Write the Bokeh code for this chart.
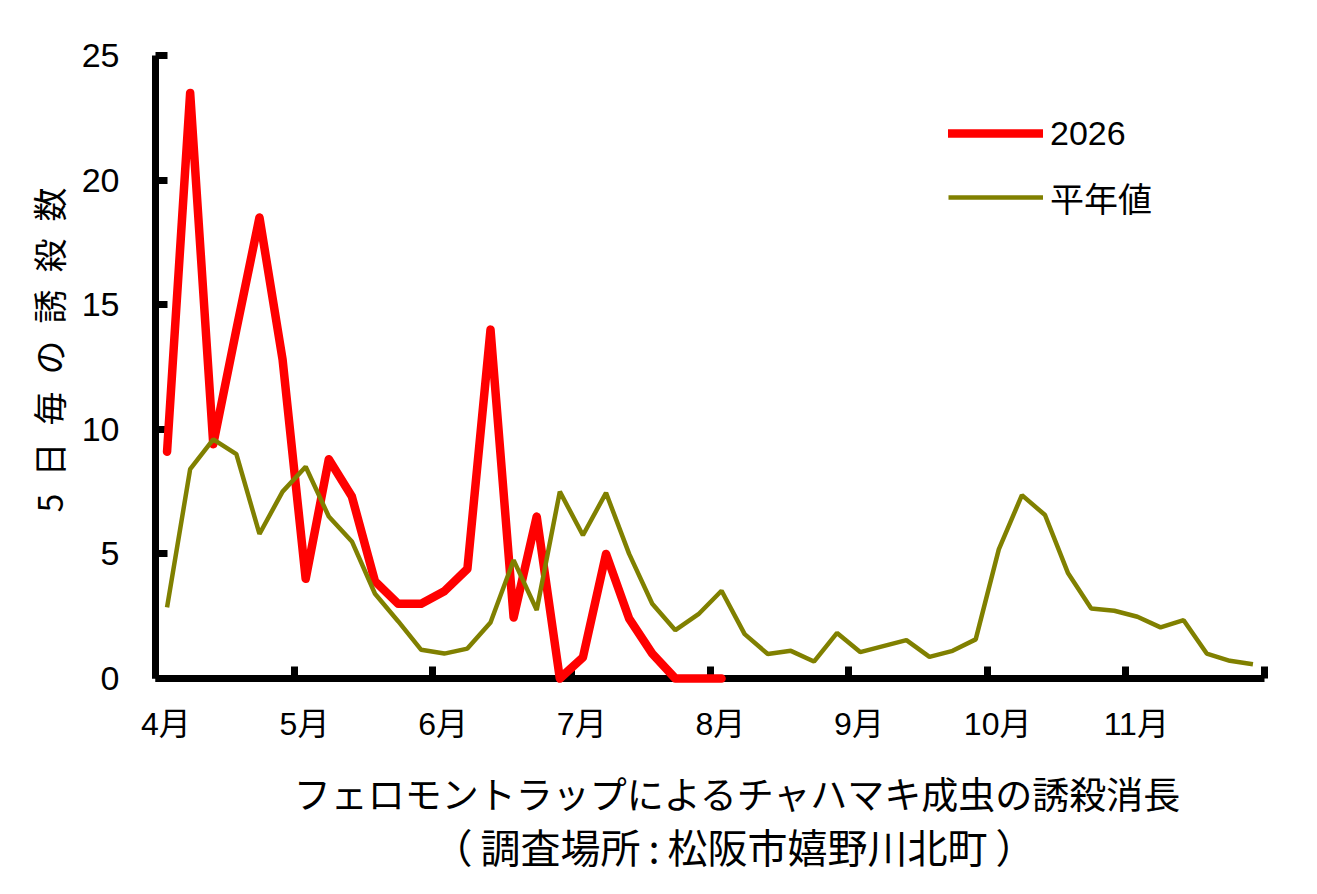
from bokeh.plotting import figure
from bokeh.models import LinearAxis, FixedTicker, Range1d, Legend, LegendItem
from bokeh.embed import file_html
from bokeh.resources import INLINE

# ---- data ----
months = ["4月", "5月", "6月", "7月", "8月", "9月", "10月", "11月"]
pentads_per_month = 6
# 5-day (pentad) trap counts, 2026 (from April 1st pentad)
count_2026 = [9.1, 23.5, 9.4, 14.0, 18.5, 12.8, 4.0, 8.8, 7.3, 3.9, 3.0, 3.0,
              3.5, 4.4, 14.0, 2.45, 6.5, 0.0, 0.85, 5.0, 2.4, 1.0, 0.0, 0.0, 0.0]
# normal-year values (平年値)
count_normal = [2.85, 8.4, 9.6, 9.0, 5.8, 7.5, 8.5, 6.5, 5.5, 3.4, 2.3, 1.15,
                1.0, 1.2, 2.25, 4.75, 2.75, 7.5, 5.75, 7.45, 5.0, 3.0, 1.94, 2.58,
                3.52, 1.78, 0.98, 1.11, 0.68, 1.83, 1.06, 1.3, 1.54, 0.87, 1.11, 1.57,
                5.18, 7.36, 6.56, 4.22, 2.81, 2.72, 2.48, 2.05, 2.34, 1.0, 0.71, 0.57]
y_ticks = [0, 5, 10, 15, 20, 25]
series_labels = ["2026", "平年値"]
y_title = "5日毎の誘殺数"
x_title_1 = "フェロモントラップによるチャハマキ成虫の誘殺消長"
x_title_2 = "（\u2009調査場所\u2009:\u2009松阪市嬉野川北町\u2009）"

n_pentads = len(months) * pentads_per_month
x_2026 = [i + 0.5 for i in range(len(count_2026))]
x_normal = [i + 0.5 for i in range(len(count_normal))]
month_starts = [k * pentads_per_month for k in range(len(months) + 1)]
label_pos = [k * pentads_per_month + 0.45 for k in range(len(months))]

JP = "Liberation Sans, Noto Sans CJK JP"
CJK = "Noto Sans CJK JP"

p = figure(width=1300, height=878, output_backend="svg", toolbar_location=None,
           x_range=Range1d(0, n_pentads), y_range=Range1d(0, y_ticks[-1]),
           x_axis_type=None,
           min_border_left=155, min_border_right=36, min_border_top=55,
           min_border_bottom=200)
p.outline_line_color = None
p.grid.visible = False
p.background_fill_color = "white"

# y axis
ya = p.yaxis[0]
ya.ticker = FixedTicker(ticks=y_ticks)
ya.major_tick_in = 12
ya.major_tick_out = 0
ya.minor_tick_line_color = None
ya.axis_line_width = 7
ya.major_tick_line_width = 7
ya.major_label_standoff = 36
ya.major_label_text_font = "Liberation Sans"
ya.major_label_text_font_size = "34px"
ya.major_label_text_color = "black"
ya.axis_label = "\u2003" + "\u2002".join(list(y_title))
ya.axis_label_text_font = CJK
ya.axis_label_text_font_size = "34px"
ya.axis_label_text_font_style = "normal"
ya.axis_label_text_color = "black"
ya.axis_label_standoff = 6

# x axis: ticks at month boundaries
xa_ticks = LinearAxis(ticker=FixedTicker(ticks=month_starts),
                      major_label_overrides={t: "" for t in month_starts},
                      major_label_text_font_size="0px", major_label_standoff=0,
                      major_tick_in=12, major_tick_out=0,
                      minor_tick_line_color=None,
                      axis_line_width=7, major_tick_line_width=7)
p.add_layout(xa_ticks, "below")
# x axis: month labels + first title line
xa_labels = LinearAxis(ticker=FixedTicker(ticks=label_pos),
                       major_label_overrides={t: m for t, m in zip(label_pos, months)},
                       axis_line_color=None, major_tick_line_color=None,
                       minor_tick_line_color=None, major_label_standoff=21,
                       major_label_text_font=JP, major_label_text_font_size="32px",
                       major_label_text_color="black",
                       axis_label="\u3000\u2002" + x_title_1,
                       axis_label_text_font=CJK, axis_label_text_font_size="37px",
                       axis_label_text_font_style="normal",
                       axis_label_text_color="black",
                       axis_label_standoff=21)
p.add_layout(xa_labels, "below")
# second title line (no ticks)
xa_title2 = LinearAxis(ticker=FixedTicker(ticks=[]),
                       axis_line_color=None, major_tick_line_color=None,
                       minor_tick_line_color=None, major_label_standoff=0,
                       major_label_text_font_size="0px",
                       major_tick_in=0, major_tick_out=0,
                       axis_label="\u3000\u2009" + x_title_2,
                       axis_label_text_font=CJK, axis_label_text_font_size="40px",
                       axis_label_text_font_style="normal",
                       axis_label_text_color="black",
                       axis_label_standoff=-6)
p.add_layout(xa_title2, "below")

r1 = p.line(x_2026, count_2026, line_color="#ff0000", line_width=8.5,
            line_cap="round", line_join="round", level="overlay")
r2 = p.line(x_normal, count_normal, line_color="#808000", line_width=4.5,
            level="overlay")

legend = Legend(items=[LegendItem(label=series_labels[0], renderers=[r1]),
                       LegendItem(label=series_labels[1], renderers=[r2])],
                location=(793, 456), glyph_width=95, glyph_height=50,
                label_height=50, spacing=14, padding=0, margin=0,
                border_line_color=None, background_fill_alpha=0,
                label_text_font=JP, label_text_font_size="34px",
                label_text_color="black", label_standoff=7)
p.add_layout(legend)

open("out.html", "w").write(file_html(p, INLINE))
